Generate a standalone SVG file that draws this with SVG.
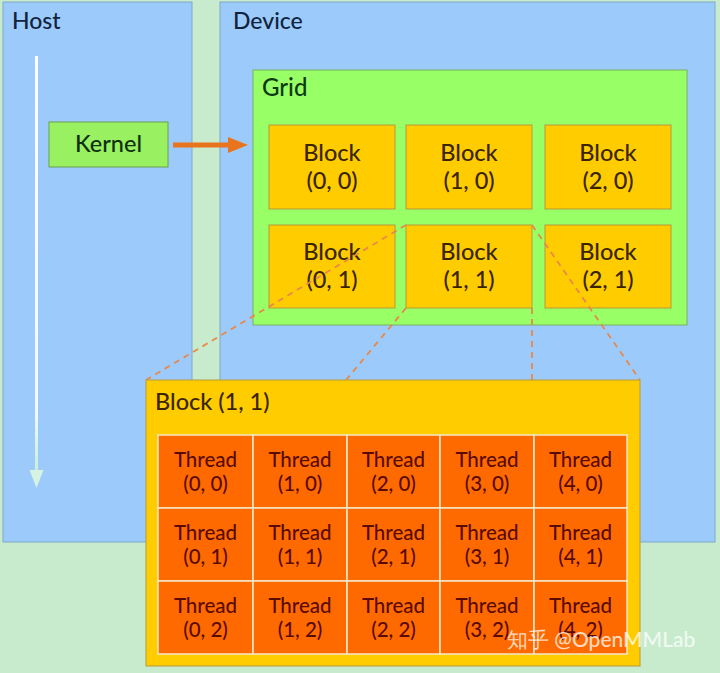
<svg xmlns="http://www.w3.org/2000/svg" width="720" height="673" viewBox="0 0 720 673">
<defs>
<style>
text{font-family:Lato,"Noto Sans","Liberation Sans",sans-serif;font-weight:500}
.panel{fill:#9ccbfb;stroke:#7fa8c8;stroke-width:1}
.blk{fill:#ffcc00;stroke:#b59a3a;stroke-width:1}
.bt{font-size:23.5px;fill:#3a2500;text-anchor:middle}
.thr{fill:#ff6a00;stroke:#f4e8c8;stroke-width:1.5}
.tt{font-size:20.5px;fill:#5a0a00;text-anchor:middle}
.dash{stroke:#e8884a;stroke-width:1.8;stroke-dasharray:6 5;fill:none}
</style>
<linearGradient id="wg" x1="0" y1="0" x2="0" y2="1">
<stop offset="0" stop-color="#ffffff"/>
<stop offset="0.85" stop-color="#f2fbf6"/>
<stop offset="1" stop-color="#c8eed4"/>
</linearGradient>
</defs>
<rect x="0" y="0" width="720" height="673" fill="#c8ebcd"/>

<g id="host">
<rect class="panel" x="3" y="2" width="189" height="540"/>
<text x="12" y="29" font-size="23" fill="#10243e">Host</text>
</g>
<g id="device">
<rect class="panel" x="220" y="2" width="495" height="540"/>
<text x="233" y="29" font-size="23" fill="#10243e">Device</text>
</g>

<g id="timeline">
<rect x="35" y="56" width="3" height="416" fill="url(#wg)"/>
<polygon points="29.5,470 43.5,470 36.5,488" fill="#d6f2e0"/>
</g>

<g id="kernel">
<rect x="49" y="122" width="119" height="45" fill="#99f060" stroke="#6aa050" stroke-width="1"/>
<text x="108.5" y="152" font-size="23.5" fill="#0f3010" text-anchor="middle">Kernel</text>
</g>

<g id="grid">
<rect x="253" y="70" width="434" height="255" fill="#99ff66" stroke="#78b060" stroke-width="1"/>
<text x="262" y="96" font-size="24" fill="#0d3a10">Grid</text>
</g>

<g id="block00"><rect class="blk" x="269" y="125" width="126" height="84"/><text class="bt" x="332" y="161">Block</text><text class="bt" x="332" y="189">(0, 0)</text></g>
<g id="block10"><rect class="blk" x="406" y="125" width="126" height="84"/><text class="bt" x="469" y="161">Block</text><text class="bt" x="469" y="189">(1, 0)</text></g>
<g id="block20"><rect class="blk" x="545" y="125" width="126" height="84"/><text class="bt" x="608" y="161">Block</text><text class="bt" x="608" y="189">(2, 0)</text></g>
<g id="block01"><rect class="blk" x="269" y="225" width="126" height="83"/><text class="bt" x="332" y="260">Block</text><text class="bt" x="332" y="288">(0, 1)</text></g>
<g id="block11"><rect class="blk" x="406" y="225" width="126" height="83"/><text class="bt" x="469" y="260">Block</text><text class="bt" x="469" y="288">(1, 1)</text></g>
<g id="block21"><rect class="blk" x="545" y="225" width="126" height="83"/><text class="bt" x="608" y="260">Block</text><text class="bt" x="608" y="288">(2, 1)</text></g>

<g id="connectors">
<line class="dash" x1="406" y1="225" x2="146" y2="380"/>
<line class="dash" x1="406" y1="308" x2="346" y2="380"/>
<line class="dash" x1="532" y1="308" x2="532" y2="380"/>
<line class="dash" x1="532" y1="225" x2="640" y2="380"/>
<g id="launch">
<rect x="173" y="142.5" width="57" height="5" fill="#e8741e"/>
<polygon points="228,137 248,145 228,153" fill="#e8741e"/>
</g>
</g>

<g id="blockDetail">
<rect x="146" y="380" width="494" height="286" fill="#ffcc00" stroke="#b59a3a" stroke-width="1"/>
<text x="155" y="410" font-size="23.5" fill="#3a2500">Block (1, 1)</text>
</g>

<g id="threads">
<g id="t00"><rect class="thr" x="158" y="435" width="95" height="73"/><text class="tt" x="205.5" y="467">Thread</text><text class="tt" x="205.5" y="491">(0, 0)</text></g>
<g id="t10"><rect class="thr" x="253" y="435" width="94" height="73"/><text class="tt" x="300" y="467">Thread</text><text class="tt" x="300" y="491">(1, 0)</text></g>
<g id="t20"><rect class="thr" x="347" y="435" width="93" height="73"/><text class="tt" x="393.5" y="467">Thread</text><text class="tt" x="393.5" y="491">(2, 0)</text></g>
<g id="t30"><rect class="thr" x="440" y="435" width="94" height="73"/><text class="tt" x="487" y="467">Thread</text><text class="tt" x="487" y="491">(3, 0)</text></g>
<g id="t40"><rect class="thr" x="534" y="435" width="93" height="73"/><text class="tt" x="580.5" y="467">Thread</text><text class="tt" x="580.5" y="491">(4, 0)</text></g>

<g id="t01"><rect class="thr" x="158" y="508" width="95" height="73"/><text class="tt" x="205.5" y="540">Thread</text><text class="tt" x="205.5" y="564">(0, 1)</text></g>
<g id="t11"><rect class="thr" x="253" y="508" width="94" height="73"/><text class="tt" x="300" y="540">Thread</text><text class="tt" x="300" y="564">(1, 1)</text></g>
<g id="t21"><rect class="thr" x="347" y="508" width="93" height="73"/><text class="tt" x="393.5" y="540">Thread</text><text class="tt" x="393.5" y="564">(2, 1)</text></g>
<g id="t31"><rect class="thr" x="440" y="508" width="94" height="73"/><text class="tt" x="487" y="540">Thread</text><text class="tt" x="487" y="564">(3, 1)</text></g>
<g id="t41"><rect class="thr" x="534" y="508" width="93" height="73"/><text class="tt" x="580.5" y="540">Thread</text><text class="tt" x="580.5" y="564">(4, 1)</text></g>

<g id="t02"><rect class="thr" x="158" y="581" width="95" height="73"/><text class="tt" x="205.5" y="613">Thread</text><text class="tt" x="205.5" y="637">(0, 2)</text></g>
<g id="t12"><rect class="thr" x="253" y="581" width="94" height="73"/><text class="tt" x="300" y="613">Thread</text><text class="tt" x="300" y="637">(1, 2)</text></g>
<g id="t22"><rect class="thr" x="347" y="581" width="93" height="73"/><text class="tt" x="393.5" y="613">Thread</text><text class="tt" x="393.5" y="637">(2, 2)</text></g>
<g id="t32"><rect class="thr" x="440" y="581" width="94" height="73"/><text class="tt" x="487" y="613">Thread</text><text class="tt" x="487" y="637">(3, 2)</text></g>
<g id="t42"><rect class="thr" x="534" y="581" width="93" height="73"/><text class="tt" x="580.5" y="613">Thread</text><text class="tt" x="580.5" y="637">(4, 2)</text></g>
</g>

<text x="507" y="647" font-size="21" fill="#ffffff" fill-opacity="0.75" font-family="'Noto Sans CJK SC','Noto Sans',sans-serif">知乎 @OpenMMLab</text>
</svg>
